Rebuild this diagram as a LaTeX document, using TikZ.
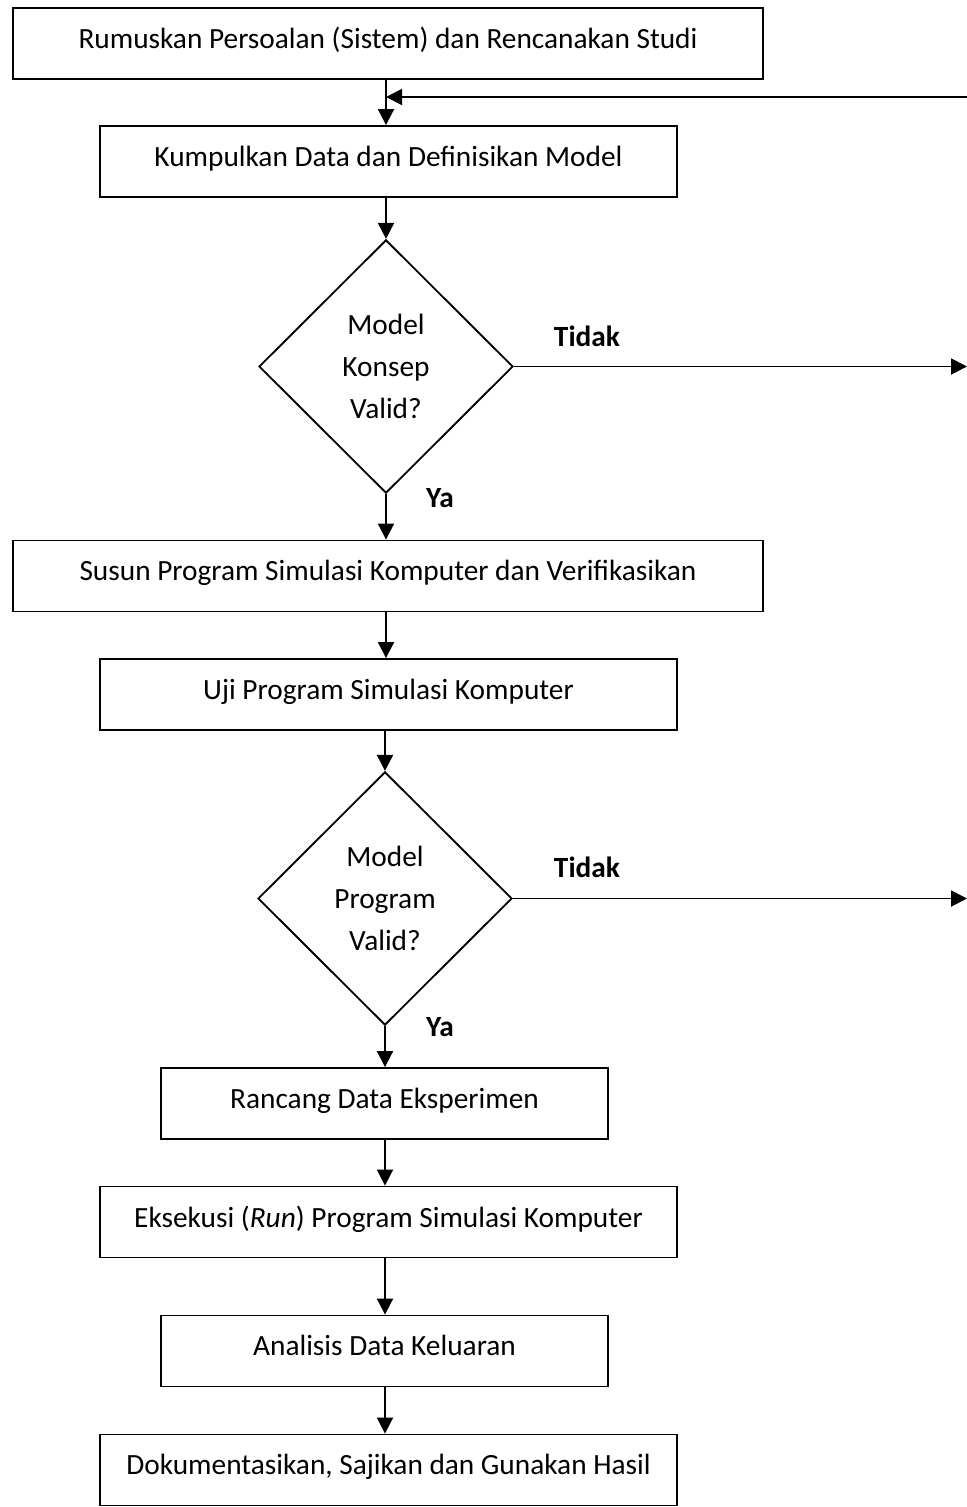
\documentclass[tikz,border=0pt]{standalone}
\usepackage{fontspec}
\setmainfont{Carlito}
\usetikzlibrary{arrows.meta,shapes.geometric}
\tikzset{
  base/.style={draw=black, line width=1.4pt, inner sep=0pt, align=center,
    font=\fontsize{22}{31.5}\selectfont},
  wide/.style={base, rectangle, minimum width=562.5pt, minimum height=53.25pt, text depth=8.5pt},
  mid/.style={base, rectangle, minimum width=432.75pt, minimum height=53.25pt, text depth=8.5pt},
  narrow/.style={base, rectangle, minimum width=335.25pt, minimum height=53.25pt, text depth=8.5pt},
  decision/.style={base, diamond, minimum width=190.5pt, minimum height=190pt},
  lbl/.style={font=\fontsize{22}{24}\selectfont\bfseries, inner sep=0pt},
  conn/.style={line width=1.4pt, -{Triangle[length=12pt,width=12pt]}},
}
\begin{document}
\begin{tikzpicture}[x=0.75pt,y=-0.75pt]
\useasboundingbox (0,0) rectangle (967,1507);
\node[wide] (b1) at (388,43.5) {Rumuskan Persoalan (Sistem) dan Rencanakan Studi};
\node[mid] (b2) at (388.5,161.5) {Kumpulkan Data dan Definisikan Model};
\node[decision] (d1) at (386,366.5) {Model\\Konsep\\Valid?};
\node[wide] (b3) at (388,576) {Susun Program Simulasi Komputer dan Verifikasikan};
\node[mid] (b4) at (388.5,694.5) {Uji Program Simulasi Komputer};
\node[decision] (d2) at (385,898.5) {Model\\Program\\Valid?};
\node[narrow] (b5) at (384.5,1103.5) {Rancang Data Eksperimen};
\node[mid] (b6) at (388.5,1222) {Eksekusi (\textit{Run}) Program Simulasi Komputer};
\node[narrow] (b7) at (384.5,1351) {Analisis Data Keluaran};
\node[mid] (b8) at (388.5,1470) {Dokumentasikan, Sajikan dan Gunakan Hasil};
\node[lbl] (t1) at (587,336) {Tidak};
\node[lbl] (y1) at (440,498) {Ya};
\node[lbl] (t2) at (587,867) {Tidak};
\node[lbl] (y2) at (440,1027) {Ya};
\coordinate (fbstart) at (967,97);
\coordinate (fbend) at (386,97);
\coordinate (out1) at (967,366.5);
\coordinate (out2) at (967,898.5);
\draw[conn] (b1.south -| d1.north) -- (b2.north -| d1.north);
\draw[conn] (fbstart) -- (fbend);
\draw[conn] (b2.south -| d1.north) -- (d1.north);
\draw[conn] (d1.south) -- (b3.north -| d1.south);
\draw[conn] (d1.east) -- (out1);
\draw[conn] (b3.south -| d1.north) -- (b4.north -| d1.north);
\draw[conn] (b4.south -| d2.north) -- (d2.north);
\draw[conn] (d2.east) -- (out2);
\draw[conn] (d2.south) -- (b5.north -| d2.south);
\draw[conn] (b5.south -| d2.north) -- (b6.north -| d2.north);
\draw[conn] (b6.south -| d2.north) -- (b7.north -| d2.north);
\draw[conn] (b7.south -| d2.north) -- (b8.north -| d2.north);
\end{tikzpicture}
\end{document}
